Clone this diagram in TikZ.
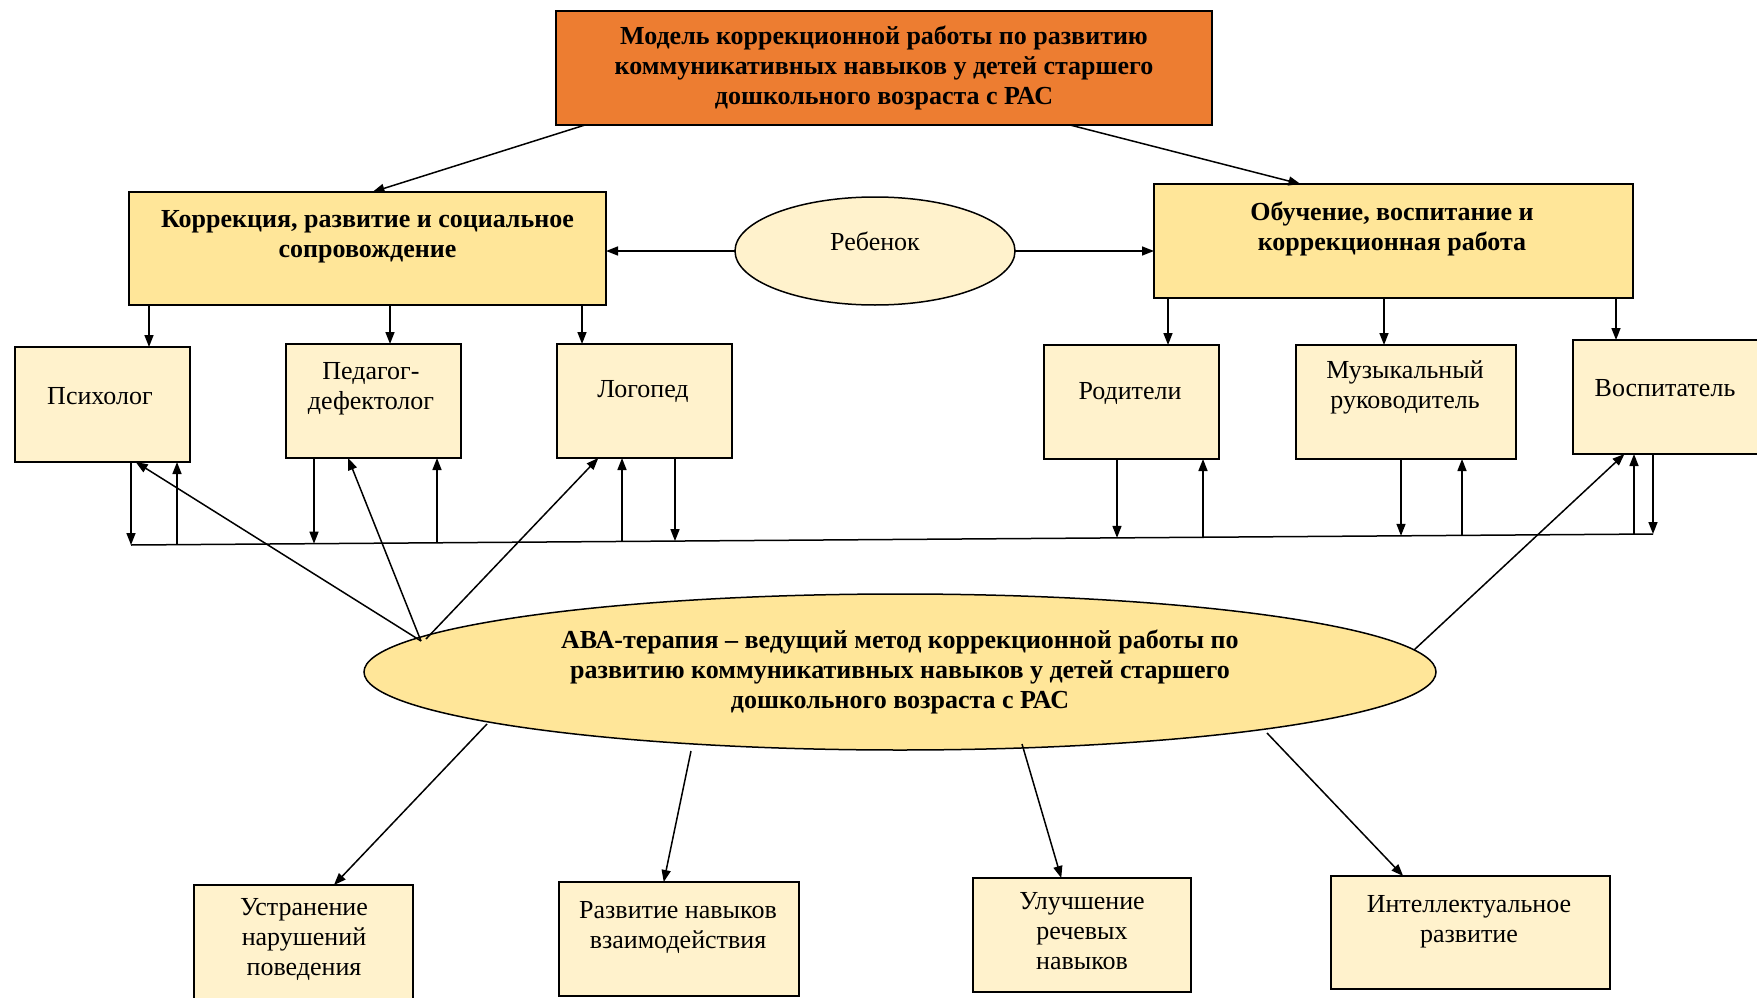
\documentclass[tikz,border=0pt]{standalone}
\usepackage{fontspec}
\setmainfont{Liberation Serif}
\usetikzlibrary{
    positioning,       % Relative positioning
    shapes.geometric,  % Ellipses
    arrows.meta,       % Modern arrow tips
    calc               % Coordinate calculations
}
\definecolor{modelorange}{HTML}{ED7D31}
\definecolor{sectionyellow}{HTML}{FFE699}
\definecolor{cellcream}{HTML}{FFF2CC}
\tikzset{
    arr/.style={line width=1.5pt, -{Triangle[length=12pt,width=9pt]}},
    cell/.style={draw, line width=1.5pt, fill=cellcream, inner sep=0pt, outer sep=0pt},
    section/.style={cell, fill=sectionyellow},
    oval/.style={cell, ellipse},
    txt/.style={align=center, inner sep=0pt, font=\fontsize{26}{30}\selectfont},
    btxt/.style={txt, font=\fontsize{26}{30}\selectfont\bfseries}
}

\begin{document}
\begin{tikzpicture}[x=1pt,y=-1pt]
    \useasboundingbox (0,0) rectangle (1757,998);

    % model and the two directions
    \node[cell, fill=modelorange, minimum width=656pt, minimum height=114pt, btxt] (model) at (884,68)
        {Модель коррекционной работы по развитию\\коммуникативных навыков у детей старшего\\дошкольного возраста с РАС};
    \node[section, minimum width=477pt, minimum height=113pt] (korr) at (367.5,248.5) {};
    \node[btxt] (korrT) at (367.5,236.5) {Коррекция, развитие и социальное\\сопровождение};
    \node[section, minimum width=479pt, minimum height=114pt] (obuch) at (1393.5,241) {};
    \node[btxt] (obuchT) at (1392,228.5) {Обучение, воспитание и\\коррекционная работа};
    \node[oval, minimum width=280pt, minimum height=108pt] (child) at (875,251) {};
    \node[txt] (childT) at (875,241) {Ребенок};

    % specialists
    \node[cell, minimum width=175pt, minimum height=115pt] (psych) at (102.5,404.5) {};
    \node[txt] (psychT) at (100,396) {Психолог};
    \node[cell, minimum width=175pt, minimum height=114pt] (ped) at (373.5,401) {};
    \node[txt] (pedT) at (371,389) {Педагог-\\дефектолог};
    \node[cell, minimum width=175pt, minimum height=114pt] (log) at (644.5,401) {};
    \node[txt] (logT) at (643,391) {Логопед};
    \node[cell, minimum width=175pt, minimum height=114pt] (rod) at (1131.5,402) {};
    \node[txt] (rodT) at (1130,393) {Родители};
    \node[cell, minimum width=220pt, minimum height=114pt] (muz) at (1406,402) {};
    \node[txt] (muzT) at (1405,387.5) {Музыкальный\\руководитель};
    \node[cell, minimum width=192pt, minimum height=114pt] (vosp) at (1669,397) {};
    \node[txt] (vospT) at (1665,388) {Воспитатель};

    % method
    \node[oval, fill=sectionyellow, minimum width=1072pt, minimum height=156pt, btxt] (aba) at (900,672)
        {АВА-терапия – ведущий метод коррекционной работы по\\развитию коммуникативных навыков у детей старшего\\дошкольного возраста с РАС};

    % results
    \node[cell, minimum width=219pt, minimum height=125pt] (ust) at (303.5,947.5) {};
    \node[txt] (ustT) at (304,939) {Устранение\\нарушений\\поведения};
    \node[cell, minimum width=240pt, minimum height=114pt] (razv) at (679,939) {};
    \node[txt] (razvT) at (678,927) {Развитие навыков\\взаимодействия};
    \node[cell, minimum width=218pt, minimum height=114pt] (ulu) at (1082,935) {};
    \node[txt] (uluT) at (1082,931.5) {Улучшение\\речевых\\навыков};
    \node[cell, minimum width=279pt, minimum height=113pt] (intel) at (1470.5,932.5) {};
    \node[txt] (intelT) at (1469,922) {Интеллектуальное\\развитие};

    % common line
    \coordinate (psych-dn) at (131,545);
    \coordinate (psych-up) at (177,544.67);
    \coordinate (ped-dn) at (314,543.68);
    \coordinate (ped-up) at (437,542.79);
    \coordinate (log-up) at (622,541.45);
    \coordinate (log-dn) at (675,541.07);
    \coordinate (rod-dn) at (1117,537.87);
    \coordinate (rod-up) at (1203,537.25);
    \coordinate (muz-dn) at (1401,535.82);
    \coordinate (muz-up) at (1462,535.38);
    \coordinate (vosp-up) at (1634,534.14);
    \coordinate (vosp-dn) at (1653,534);
    \draw[line width=1.5pt] (psych-dn) -- (vosp-dn);

    % arrows
    \draw[arr] ([xshift=29pt]model.south west) -- ([xshift=5pt]korr.north);
    \draw[arr] ([xshift=-142pt]model.south east) -- ([xshift=-93pt]obuch.north);
    \draw[arr] (child.west) -- (korr.east |- child.west);
    \draw[arr] (child.east) -- (obuch.west |- child.east);

    \draw[arr] ([xshift=46.5pt]psych.north |- korr.south) -- ([xshift=46.5pt]psych.north);
    \draw[arr] ([xshift=16.5pt]ped.north |- korr.south) -- ([xshift=16.5pt]ped.north);
    \draw[arr] ([xshift=-62.5pt]log.north |- korr.south) -- ([xshift=-62.5pt]log.north);
    \draw[arr] ([xshift=36.5pt]rod.north |- obuch.south) -- ([xshift=36.5pt]rod.north);
    \draw[arr] ([xshift=-22pt]muz.north |- obuch.south) -- ([xshift=-22pt]muz.north);
    \draw[arr] ([xshift=-53pt]vosp.north |- obuch.south) -- ([xshift=-53pt]vosp.north);

    \draw[arr] (psych.south -| psych-dn) -- (psych-dn);
    \draw[arr] (psych-up) -- (psych.south -| psych-up);
    \draw[arr] (ped.south -| ped-dn) -- (ped-dn);
    \draw[arr] (ped-up) -- (ped.south -| ped-up);
    \draw[arr] (log-up) -- (log.south -| log-up);
    \draw[arr] (log.south -| log-dn) -- (log-dn);
    \draw[arr] (rod.south -| rod-dn) -- (rod-dn);
    \draw[arr] (rod-up) -- (rod.south -| rod-up);
    \draw[arr] (muz.south -| muz-dn) -- (muz-dn);
    \draw[arr] (muz-up) -- (muz.south -| muz-up);
    \draw[arr] (vosp-up) -- (vosp.south -| vosp-up);
    \draw[arr] (vosp.south -| vosp-dn) -- (vosp-dn);

    \draw[arr] ($(aba)+(-479,-31)$) -- (psych.300);
    \draw[arr] ($(aba)+(-479,-31)$) -- (ped.246);
    \draw[arr] ($(aba)+(-474,-33)$) -- (log.231);
    \draw[arr] ($(aba)+(514,-22)$) -- (vosp.232.8);

    \draw[arr] ($(aba)+(-413,52)$) -- (ust.64);
    \draw[arr] ($(aba)+(-209,79)$) -- (razv.105.7);
    \draw[arr] ($(aba)+(122,72)$) -- (ulu.110);
    \draw[arr] ($(aba)+(367,61)$) -- (intel.140);
\end{tikzpicture}
\end{document}
